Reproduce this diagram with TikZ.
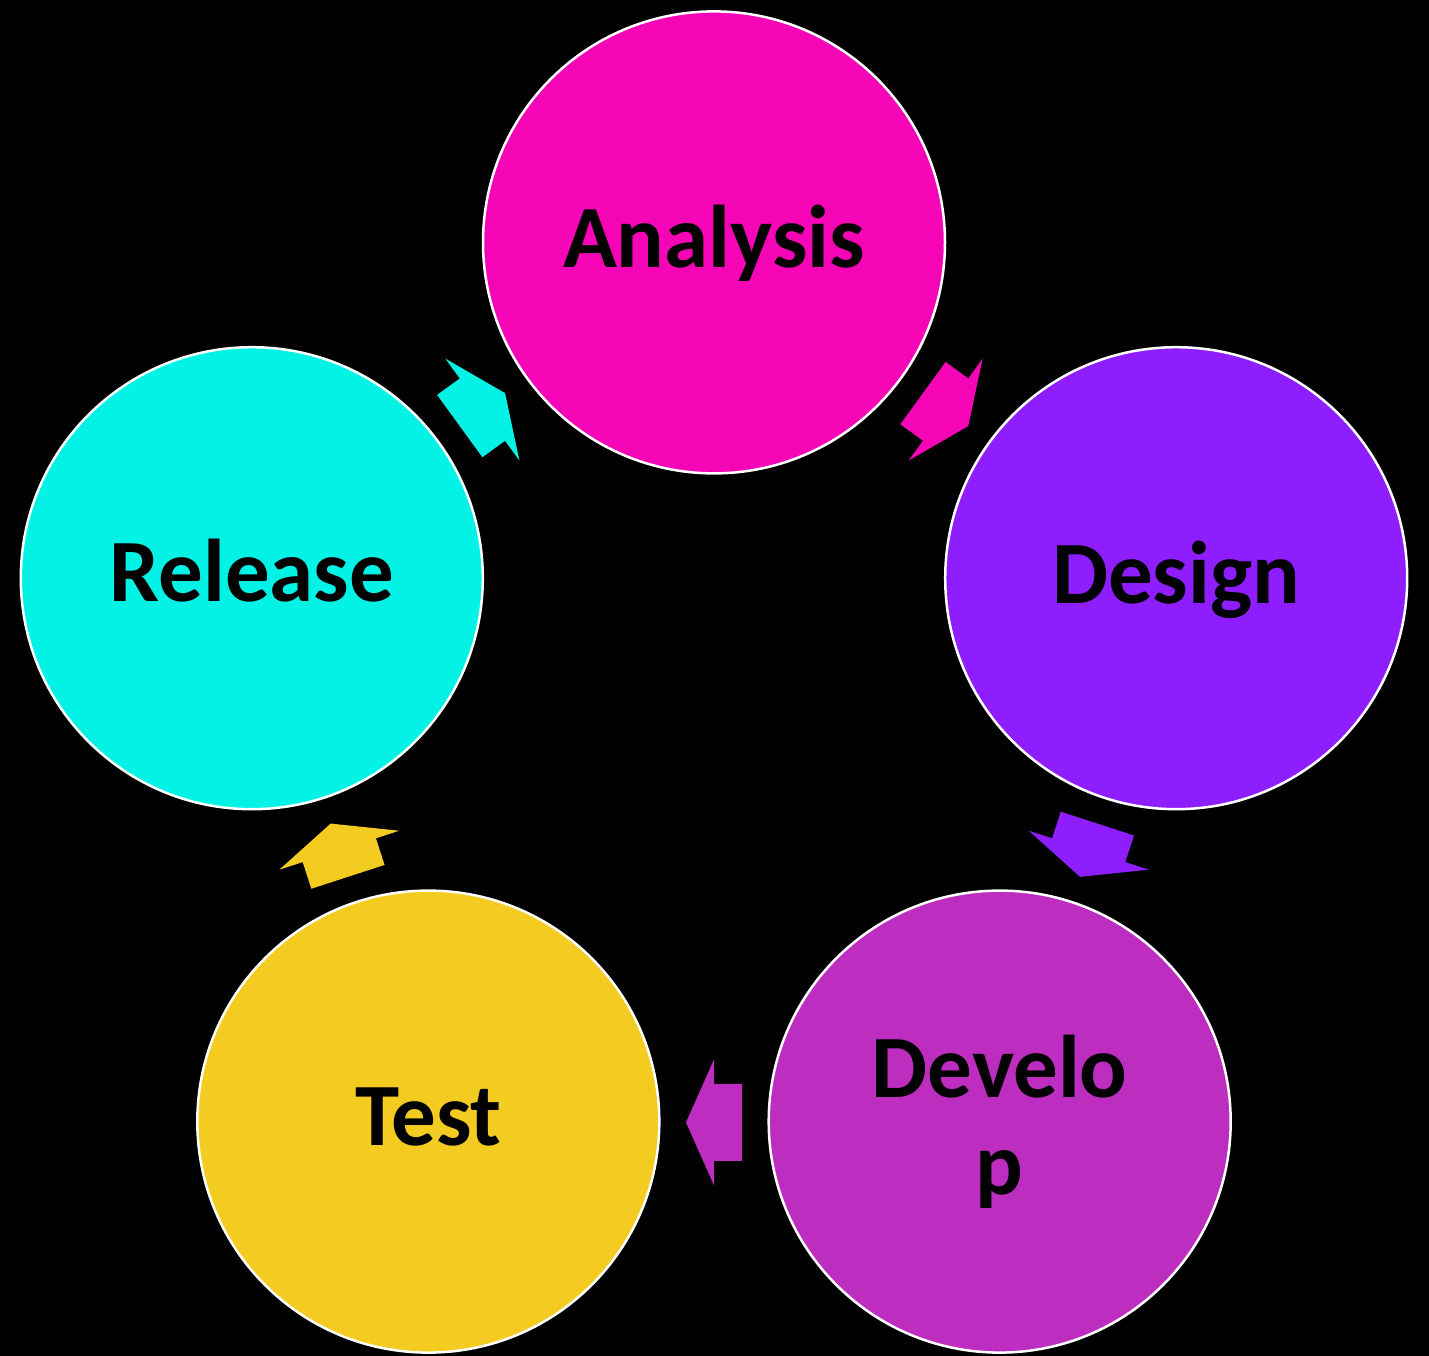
\documentclass[tikz,border=0pt]{standalone}
\usepackage{fontspec}
\setmainfont{Carlito}
\definecolor{cA}{HTML}{F605B6}
\definecolor{cD}{HTML}{8F1EFF}
\definecolor{cV}{HTML}{BD2DC0}
\definecolor{cT}{HTML}{F3CB21}
\definecolor{cR}{HTML}{02F2E6}
\tikzset{
  stage/.style={circle, draw=white, line width=2.5pt, minimum size=462pt, inner sep=0pt},
  lbl/.style={anchor=base, inner sep=0pt, font=\fontsize{89}{97}\selectfont\bfseries, text=black},
  blockarrow/.pic={\fill (-28,-38.5) -- (0,-38.5) -- (0,-63) -- (28,0) -- (0,63) -- (0,38.5) -- (-28,38.5) -- cycle;}
}
\begin{document}
\begin{tikzpicture}[x=1pt,y=-1pt]
\fill[black] (0,0) rectangle (1429,1356);
\useasboundingbox (0,0) rectangle (1429,1356);
% stages
\node[stage, fill=cA] (analysis) at (714,242.4) {};
\node[stage, fill=cD] (design) at (1176.2,578.2) {};
\node[stage, fill=cV] (develop) at (999.7,1121.6) {};
\node[stage, fill=cT] (test) at (428.3,1121.6) {};
\node[stage, fill=cR] (release) at (251.8,578.2) {};
% labels
\node[lbl] (tA) at ([yshift=-25.5pt]analysis.center) {Analysis};
\node[lbl] (tD) at ([yshift=-25pt]design.center) {Design};
\node[lbl, align=center] (tV) at ([yshift=-73pt]develop.center) {Develo\\p};
\node[lbl] (tT) at ([yshift=-24pt]test.center) {Test};
\node[lbl] (tR) at ([yshift=-23.5pt]release.center) {Release};
% cycle arrows
\pic[fill=cA, shift={(945.6,409.6)}, rotate=-36] {blockarrow};
\pic[fill=cD, shift={(1088.7,850.2)}, rotate=-108] {blockarrow};
\pic[fill=cV, shift={(714,1122.4)}, rotate=180] {blockarrow};
\pic[fill=cT, shift={(339.3,850.2)}, rotate=108] {blockarrow};
\pic[fill=cR, shift={(482.4,409.6)}, rotate=36] {blockarrow};
\end{tikzpicture}
\end{document}
